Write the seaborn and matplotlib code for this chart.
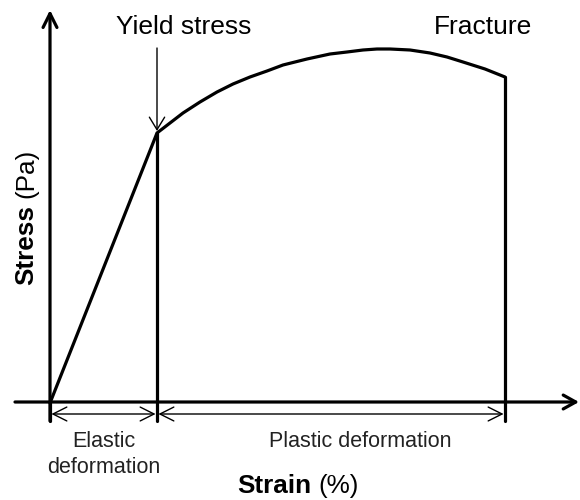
import matplotlib
matplotlib.use("Agg")
import matplotlib.pyplot as plt
import seaborn as sns
import pandas as pd

# Stress-strain curve (strain in px-like units, stress in arbitrary units)
curve_strain = [0, 107, 120, 133, 150, 167, 183, 200, 217, 233, 257, 280, 297, 313, 327, 340, 360, 380, 397, 413, 435, 455]
curve_stress = [0, 270, 280, 290, 301, 311, 319, 326, 332, 338, 344, 349, 351, 353, 354, 354, 353, 350, 346, 341, 334, 326]

yield_strain = 107
yield_stress = 270
fracture_strain = 455
fracture_stress = 326

title_labels = ["Yield stress", "Fracture"]
region_labels = ["Elastic\ndeformation", "Plastic deformation"]

sns.set_theme(style="white")
plt.rcParams["font.family"] = ["Liberation Sans", "DejaVu Sans"]

fig = plt.figure(figsize=(5.8, 5.0), dpi=100)
ax = fig.add_axes([0, 0, 1, 1])
ax.set_xlim(-50, 530)
ax.set_ylim(-97, 403)
ax.axis("off")

df = pd.DataFrame({"strain": curve_strain, "stress": curve_stress})
sns.lineplot(data=df, x="strain", y="stress", sort=False, estimator=None,
             color="black", lw=2.3, ax=ax, solid_joinstyle="miter")

tick_bottom = -18
# vertical lines at yield and fracture
ax.plot([yield_strain, yield_strain], [yield_stress, tick_bottom], color="black", lw=2.3)
ax.plot([fracture_strain, fracture_strain], [fracture_stress, tick_bottom], color="black", lw=2.3)
ax.plot([0, 0], [0, tick_bottom], color="black", lw=2.3)

# axes arrows
ax.annotate("", xy=(0, 393), xytext=(0, tick_bottom),
            arrowprops=dict(arrowstyle="->,head_length=1.0,head_width=0.5", lw=2.3,
                            color="black", shrinkA=0, shrinkB=0, mutation_scale=10))
ax.annotate("", xy=(529, 1), xytext=(-35, 1),
            arrowprops=dict(arrowstyle="->,head_length=0.9,head_width=0.5", lw=2.3,
                            color="black", shrinkA=0, shrinkB=0, mutation_scale=10))

# yield stress arrow
ax.annotate("", xy=(yield_strain, yield_stress + 2), xytext=(yield_strain, 355),
            arrowprops=dict(arrowstyle="->,head_length=0.9,head_width=0.55", lw=1.0,
                            color="black", shrinkA=0, shrinkB=0, mutation_scale=10))

# double arrows
arr_y = -11
for a, b in [(0, yield_strain), (yield_strain, fracture_strain)]:
    ax.annotate("", xy=(b, arr_y), xytext=(a, arr_y),
                arrowprops=dict(arrowstyle="<->,head_length=1.0,head_width=0.5", lw=1.0,
                                color="black", shrinkA=1, shrinkB=1, mutation_scale=10))

# top labels
ax.text(134, 369, title_labels[0], ha="center", va="baseline", fontsize=19, color="black")
ax.text(433, 369, title_labels[1], ha="center", va="baseline", fontsize=19, color="black")

# region labels
ax.text(54, -44, "Elastic", ha="center", va="baseline", fontsize=15.5, color="#222222")
ax.text(54, -70, "deformation", ha="center", va="baseline", fontsize=15.5, color="#222222")
ax.text(310, -44, region_labels[1], ha="center", va="baseline", fontsize=15.5, color="#222222")

# axis labels
ax.text(261, -90, "Strain", ha="right", va="baseline", fontsize=18.8, fontweight="bold", color="black")
ax.text(268, -90, "(%)", ha="left", va="baseline", fontsize=18.8, color="black")
ax.text(-17, 118, "Stress", ha="left", va="baseline", rotation=90, rotation_mode="anchor",
        fontsize=18.8, fontweight="bold", color="black")
ax.text(-17, 205, "(Pa)", ha="left", va="baseline", rotation=90, rotation_mode="anchor",
        fontsize=18.8, color="black")

fig.savefig("out.png", dpi=100)
